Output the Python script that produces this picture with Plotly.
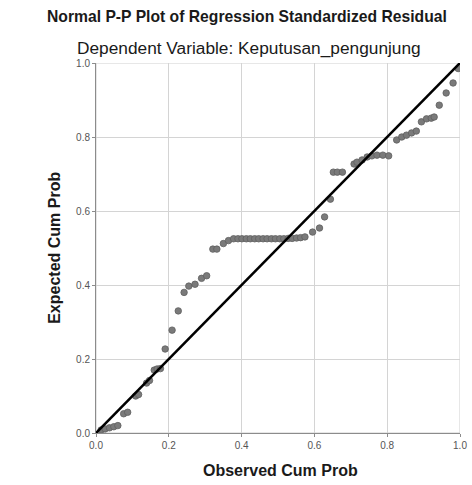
import plotly.graph_objects as go

# Observed cumulative probability (x) and expected cumulative probability (y)
observed = [0.014, 0.025, 0.037, 0.049, 0.060, 0.076, 0.087, 0.109, 0.117, 0.139, 0.147,
            0.160, 0.168, 0.177, 0.190, 0.209, 0.226, 0.242, 0.255, 0.272, 0.290, 0.304,
            0.321, 0.332, 0.350, 0.364,
            0.378, 0.390, 0.401, 0.413, 0.424, 0.436, 0.447, 0.459, 0.470, 0.482, 0.493,
            0.505, 0.516, 0.528, 0.539, 0.551, 0.562, 0.574,
            0.595, 0.614, 0.628, 0.644, 0.652, 0.663, 0.677,
            0.709, 0.717, 0.731, 0.745, 0.758, 0.772, 0.788, 0.804,
            0.826, 0.840, 0.853, 0.867, 0.880, 0.894, 0.908, 0.921, 0.929,
            0.943, 0.962, 0.981, 0.995]
expected = [0.008, 0.011, 0.014, 0.017, 0.020, 0.052, 0.056, 0.100, 0.104, 0.135, 0.142,
            0.170, 0.173, 0.174, 0.227, 0.278, 0.330, 0.380, 0.397, 0.402, 0.418, 0.425,
            0.497, 0.497, 0.512, 0.520,
            0.525, 0.525, 0.525, 0.525, 0.525, 0.525, 0.525, 0.525, 0.525, 0.525, 0.525,
            0.525, 0.525, 0.526, 0.526, 0.527, 0.528, 0.530,
            0.543, 0.554, 0.584, 0.632, 0.705, 0.705, 0.705,
            0.727, 0.732, 0.738, 0.746, 0.749, 0.751, 0.751, 0.749,
            0.792, 0.800, 0.805, 0.811, 0.816, 0.841, 0.849, 0.851, 0.854,
            0.886, 0.919, 0.946, 0.985]

ref_x = [0.0, 1.0]
ref_y = [0.0, 1.0]
tick_vals = [0.0, 0.2, 0.4, 0.6, 0.8, 1.0]
tick_text = ["0.0", "0.2", "0.4", "0.6", "0.8", "1.0"]

FONT = "Liberation Sans, Arial, sans-serif"
PW = 371.0  # plot width in px
PH = 370.0

fig = go.Figure()
fig.add_trace(go.Scatter(
    x=observed, y=expected, mode="markers",
    marker=dict(size=6.5, color="#7a7a7a", line=dict(color="#606060", width=0.8)),
    showlegend=False, hoverinfo="skip"))
fig.add_trace(go.Scatter(
    x=ref_x, y=ref_y, mode="lines",
    line=dict(color="#000000", width=2.6),
    showlegend=False, hoverinfo="skip"))

axis_common = dict(
    range=[0, 1], tickvals=tick_vals, ticktext=tick_text,
    showgrid=True, gridcolor="#d4d4d4", gridwidth=1,
    zeroline=False, showline=True, linecolor="#8c8c8c", linewidth=1,
    ticks="outside", ticklen=3, tickcolor="#8c8c8c",
    tickfont=dict(family=FONT, size=10, color="#555555"),
    ticklabeloverflow="allow",
)

fig.update_layout(
    width=472, height=485, autosize=False,
    margin=dict(l=96, r=5, t=63, b=52),
    paper_bgcolor="white", plot_bgcolor="white",
    xaxis=dict(**axis_common),
    yaxis=dict(**axis_common),
    shapes=[dict(type="rect", xref="x", yref="y", x0=0, y0=0, x1=1, y1=1,
                 line=dict(color="#cfcfcf", width=1), layer="below")],
    annotations=[
        dict(text="<b>Normal P-P Plot of Regression Standardized Residual</b>",
             xref="paper", yref="paper", x=(250 - 96) / PW, y=1 + (63 - 17) / PH,
             xanchor="center", yanchor="middle", showarrow=False,
             font=dict(family=FONT, size=15.7, color="#1a1a1a")),
        dict(text="Dependent Variable: Keputusan_pengunjung",
             xref="paper", yref="paper", x=(252 - 96) / PW, y=1 + (63 - 48) / PH,
             xanchor="center", yanchor="middle", showarrow=False,
             font=dict(family=FONT, size=17.3, color="#1a1a1a")),
        dict(text="<b>Observed Cum Prob</b>",
             xref="paper", yref="paper", x=(284 - 96) / PW, y=-(470 - 433) / PH,
             xanchor="center", yanchor="middle", showarrow=False,
             font=dict(family=FONT, size=16, color="#1a1a1a")),
        dict(text="<b>Expected Cum Prob</b>", textangle=-90,
             xref="paper", yref="paper", x=-(96 - 53) / PW, y=(433 - 248) / PH,
             xanchor="center", yanchor="middle", showarrow=False,
             font=dict(family=FONT, size=16, color="#1a1a1a")),
    ],
)

fig.write_html("out.html",
               config={"displayModeBar": False, "responsive": False},
               post_script="document.body.style.margin='0';document.body.style.overflow='hidden';")
